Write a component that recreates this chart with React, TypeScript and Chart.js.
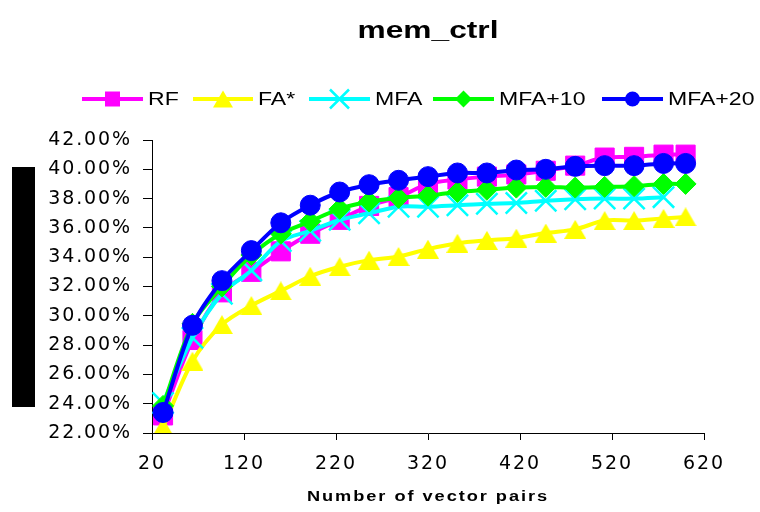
import React, { useEffect, useRef } from 'react';
import { Chart, registerables } from 'chart.js';

Chart.register(...registerables);

// ---- data ----
const chartTitle = 'mem_ctrl';
const xAxisTitle = 'Number of vector pairs';
const xValues = [32, 64, 96, 128, 160, 192, 224, 256, 288, 320, 352, 384, 416, 448, 480, 512, 544, 576, 600];
const seriesNames = ['RF', 'FA*', 'MFA', 'MFA+10', 'MFA+20'];
const rfValues = [23.2, 28.35, 31.6, 33.0, 34.4, 35.6, 36.55, 37.5, 38.1, 39.0, 39.3, 39.5, 39.65, 39.9, 40.25, 40.8, 40.85, 41.0, 41.0];
const faStarValues = [22.4, 26.9, 29.4, 30.7, 31.7, 32.7, 33.35, 33.8, 34.05, 34.55, 34.95, 35.15, 35.3, 35.65, 35.9, 36.5, 36.5, 36.65, 36.75];
const mfaValues = [24.05, 28.5, 31.5, 33.1, 35.1, 35.8, 36.55, 37.0, 37.45, 37.45, 37.55, 37.65, 37.7, 37.85, 37.95, 38.0, 38.0, 38.1];
const mfa10Values = [23.85, 29.45, 32.0, 34.15, 35.6, 36.45, 37.3, 37.8, 38.05, 38.2, 38.45, 38.6, 38.75, 38.8, 38.75, 38.8, 38.85, 39.0, 39.0];
const mfa20Values = [23.4, 29.35, 32.4, 34.45, 36.35, 37.55, 38.45, 38.95, 39.25, 39.5, 39.75, 39.75, 39.95, 40.0, 40.2, 40.25, 40.25, 40.4, 40.4];
const xMin = 20;
const xMax = 620;
const xStep = 100;
const yMin = 22;
const yMax = 42;
const yStep = 2;

// ---- styles ----
const colors = ['#FF00FF', '#FFFF00', '#00FFFF', '#00FF00', '#0000FF'];
const markerKinds = ['square', 'triangle', 'x', 'diamond', 'circle'];
const seriesValues = [rfValues, faStarValues, mfaValues, mfa10Values, mfa20Values];

function makeTriangle(color: string, w: number, h: number) {
  const c = document.createElement('canvas');
  c.width = w;
  c.height = h;
  const g = c.getContext('2d')!;
  g.fillStyle = color;
  g.beginPath();
  g.moveTo(w / 2, 0);
  g.lineTo(w, h);
  g.lineTo(0, h);
  g.closePath();
  g.fill();
  return c;
}

function drawMarker(ctx: CanvasRenderingContext2D, kind: string, cx: number, cy: number, color: string) {
  ctx.save();
  ctx.fillStyle = color;
  ctx.strokeStyle = color;
  ctx.beginPath();
  if (kind === 'square') {
    ctx.rect(cx - 7.5, cy - 7.5, 15, 15);
    ctx.fill();
  } else if (kind === 'triangle') {
    ctx.moveTo(cx, cy - 8.5);
    ctx.lineTo(cx + 10, cy + 8.5);
    ctx.lineTo(cx - 10, cy + 8.5);
    ctx.closePath();
    ctx.fill();
  } else if (kind === 'x') {
    ctx.lineWidth = 2.5;
    ctx.moveTo(cx - 9.5, cy - 9.5);
    ctx.lineTo(cx + 9.5, cy + 9.5);
    ctx.moveTo(cx + 9.5, cy - 9.5);
    ctx.lineTo(cx - 9.5, cy + 9.5);
    ctx.stroke();
  } else if (kind === 'diamond') {
    ctx.moveTo(cx, cy - 8.5);
    ctx.lineTo(cx + 8.5, cy);
    ctx.lineTo(cx, cy + 8.5);
    ctx.lineTo(cx - 8.5, cy);
    ctx.closePath();
    ctx.fill();
  } else {
    ctx.arc(cx, cy, 7.5, 0, Math.PI * 2);
    ctx.fill();
  }
  ctx.restore();
}

const legendLayout = [
  { x0: 82, x1: 143, tx: 148 },
  { x0: 193, x1: 253, tx: 258 },
  { x0: 309, x1: 370, tx: 375 },
  { x0: 433, x1: 494, tx: 499 },
  { x0: 602, x1: 663, tx: 668 },
];

const decorPlugin = {
  id: 'decor',
  beforeDraw(chart: any) {
    chart.ctx.letterSpacing = '1.9px';
  },
  afterDraw(chart: any) {
    const ctx: CanvasRenderingContext2D = chart.ctx;
    const area = chart.chartArea;
    ctx.save();
    (ctx as any).letterSpacing = '0px';

    // redacted y-axis title block
    ctx.fillStyle = '#000';
    ctx.fillRect(12, 167, 23, 240);

    // title
    ctx.save();
    ctx.translate((area.left + area.right) / 2, 38);
    ctx.scale(1.32, 1);
    ctx.font = 'bold 24px "Liberation Sans", Arial, sans-serif';
    ctx.textAlign = 'center';
    ctx.textBaseline = 'alphabetic';
    ctx.fillStyle = '#000';
    ctx.fillText(chartTitle, 0, 0);
    ctx.restore();

    // legend
    const ly = 99;
    seriesNames.forEach((name, i) => {
      const L = legendLayout[i];
      ctx.save();
      ctx.strokeStyle = colors[i];
      ctx.lineWidth = 4;
      ctx.beginPath();
      ctx.moveTo(L.x0, ly);
      ctx.lineTo(L.x1, ly);
      ctx.stroke();
      ctx.restore();
      drawMarker(ctx, markerKinds[i], (L.x0 + L.x1) / 2, ly, colors[i]);
      ctx.save();
      ctx.translate(L.tx, ly + 1);
      ctx.scale(1.28, 1);
      ctx.font = '18px "Liberation Sans", Arial, sans-serif';
      ctx.textAlign = 'left';
      ctx.textBaseline = 'middle';
      ctx.fillStyle = '#000';
      ctx.fillText(name, 0, 0);
      ctx.restore();
    });

    // x-axis title
    ctx.save();
    ctx.translate((area.left + area.right) / 2, 497);
    ctx.scale(1.3, 1);
    (ctx as any).letterSpacing = '1.5px';
    ctx.font = 'bold 14px "Liberation Sans", Arial, sans-serif';
    ctx.textAlign = 'center';
    ctx.textBaseline = 'middle';
    ctx.fillStyle = '#000';
    ctx.fillText(xAxisTitle, 0, 0);
    ctx.restore();

    ctx.restore();
  },
};

export default function App() {
  const ref = useRef<HTMLCanvasElement>(null);

  useEffect(() => {
    const canvas = ref.current!;
    const triangle = makeTriangle(colors[1], 22, 19);
    const pointStyles: any[] = ['rect', triangle, 'crossRot', 'rectRot', 'circle'];
    const pointRadii = [13.5, 11, 15, 10.5, 10];
    const pointBorderWidths = [1, 0, 2.5, 1, 1];

    const datasets = seriesNames.map((name, i) => ({
      label: name,
      data: seriesValues[i].map((y, j) => ({ x: xValues[j], y })),
      borderColor: colors[i],
      backgroundColor: colors[i],
      pointBackgroundColor: colors[i],
      pointBorderColor: colors[i],
      pointStyle: pointStyles[i],
      pointRadius: pointRadii[i],
      pointBorderWidth: pointBorderWidths[i],
      borderWidth: 4,
      tension: 0.3,
      fill: false,
      order: 5 - i,
    }));

    const chart = new Chart(canvas, {
      type: 'line',
      data: { datasets },
      plugins: [decorPlugin],
      options: {
        responsive: false,
        devicePixelRatio: 1,
        animation: false,
        events: [],
        layout: { padding: { left: 0, top: 140, right: 56, bottom: 0 } },
        plugins: {
          legend: { display: false },
          title: { display: false },
          tooltip: { enabled: false },
        },
        scales: {
          x: {
            type: 'linear',
            min: xMin,
            max: xMax,
            afterFit: (s: any) => { s.height = 79; },
            ticks: {
              stepSize: xStep,
              color: '#000',
              padding: 13,
              maxRotation: 0,
              font: { family: '"DejaVu Sans", sans-serif', size: 19 },
            },
            grid: { display: true, drawOnChartArea: false, drawTicks: true, tickLength: 7, color: '#000', tickColor: '#000' },
            border: { display: true, color: '#000', width: 1 },
          },
          y: {
            type: 'linear',
            min: yMin,
            max: yMax,
            afterFit: (s: any) => { s.width = 152; },
            ticks: {
              stepSize: yStep,
              color: '#000',
              padding: 11,
              font: { family: '"DejaVu Sans", sans-serif', size: 19 },
              callback: (v: any) => Number(v).toFixed(2) + '%',
            },
            grid: { display: true, drawOnChartArea: false, drawTicks: true, tickLength: 9, color: '#000', tickColor: '#000' },
            border: { display: true, color: '#000', width: 1 },
          },
        },
      } as any,
    });

    return () => chart.destroy();
  }, []);

  return (
    <div style={{ position: 'fixed', left: 0, top: 0, width: 760, height: 512, background: '#fff' }}>
      <canvas ref={ref} width={760} height={512} style={{ display: 'block', width: 760, height: 512 }} />
    </div>
  );
}
